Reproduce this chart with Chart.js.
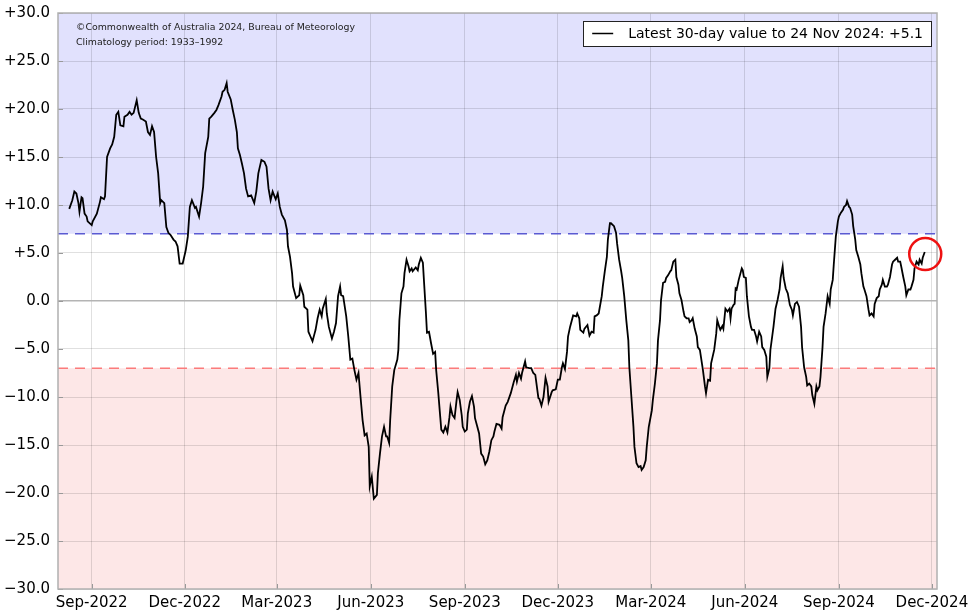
<!DOCTYPE html>
<html>
<head>
<meta charset="utf-8">
<script src="https://cdn.jsdelivr.net/npm/chart.js@4.4.1/dist/chart.umd.min.js"></script>
<style>
  html, body { margin: 0; padding: 0; background: #fff; }
  #wrap { width: 973px; height: 614px; }
</style>
</head>
<body>
<div id="wrap"><canvas id="soiChart"></canvas></div>
<script>
// day 0 of the offsets below
const startDate = '2022-09-01';
const axisStart = '2022-07-30';
const axisEnd = '2024-12-06';

// days after startDate
const dayOffsets = [
  -22,-19,-17,-15,-13,-12,-10,-9,-7,-5,
  -4,0,1,5,8,9,12,13,15,18,
  20,22,24,26,28,31,32,35,37,39,
  41,44,46,48,50,53,55,57,59,61,
  63,65,67,68,71,73,75,77,80,82,
  84,86,89,92,94,96,98,101,102,105,
  107,109,111,114,115,117,120,122,124,127,
  128,130,132,133,136,138,140,142,143,145,
  147,149,151,153,156,159,161,163,166,169,
  171,173,175,177,180,182,184,186,189,191,
  192,194,196,197,200,203,204,207,208,211,
  212,214,216,218,219,221,223,225,226,229,
  230,232,235,237,239,241,243,244,246,249,
  251,253,255,257,259,261,263,265,267,269,
  271,272,274,276,279,280,282,284,286,288,
  289,291,292,294,296,299,300,301,303,305,
  306,308,310,311,313,314,317,319,320,322,
  324,325,327,328,330,332,334,336,337,339,
  341,342,344,346,348,350,351,353,355,357,
  358,360,362,363,365,367,368,370,372,374,
  375,377,379,381,383,385,387,389,391,393,
  394,396,399,401,402,405,407,410,412,413,
  415,416,418,420,421,424,425,428,430,432,
  434,437,438,440,442,444,446,447,450,451,
  454,456,458,460,461,463,465,466,468,471,
  474,475,477,478,481,482,485,487,489,491,
  492,494,496,499,500,502,504,505,507,508,
  511,513,514,516,518,519,521,523,525,526,
  528,530,531,533,535,537,538,540,542,543,
  545,548,549,551,553,554,556,557,559,561,
  562,564,566,567,569,571,572,574,575,577,
  579,580,582,584,585,587,588,590,592,593,
  595,598,600,601,603,605,606,609,611,612,
  614,615,617,618,620,622,624,625,626,628,
  629,630,631,633,636,637,638,640,641,643,
  645,646,648,650,651,653,655,656,658,660,
  661,663,664,667,669,671,673,674,676,677,
  679,681,683,685,686,688,690,692,694,695,
  697,699,700,702,704,705,707,709,710,712,
  713,715,716,718,720,722,723,725,726,728,
  730,731,733,735,736,738,739,741,742,744,
  745,747,748,750,752,753,755,756,758,760,
  761,763,765,766,768,770,771,773,774,776,
  778,779,781,783,784,786,788,789,791,792,
  794,796,797,799,801,802,804,805,807,809,
  810,812,813,815
];

// 30-day SOI
const soiValues = [
  9.6,10.5,11.4,11.2,10.2,9.3,10.8,10.7,9.1,8.8,
  8.3,7.9,8.3,9.1,10.3,10.8,10.6,10.9,15.0,15.9,
  16.3,17.1,19.4,19.7,18.3,18.2,19.2,19.4,19.7,19.4,
  19.6,20.9,19.6,19.0,18.9,18.7,17.6,17.3,18.2,17.6,
  15.0,13.3,10.2,10.5,10.2,7.7,7.1,6.9,6.4,6.2,
  5.7,3.9,3.9,5.3,6.7,9.8,10.5,9.7,9.8,8.8,
  10.2,11.9,15.4,17.1,19.0,19.2,19.6,19.9,20.4,21.3,
  21.8,22.0,22.7,21.8,21.0,19.9,18.9,17.6,15.9,15.2,
  14.3,13.3,11.7,10.9,11.0,10.2,11.4,13.3,14.7,14.5,
  14.0,11.7,10.5,11.4,10.6,11.2,9.8,9.0,8.4,7.4,
  5.7,4.6,2.9,1.5,0.3,0.6,1.6,0.6,-0.6,-0.9,
  -3.2,-3.7,-4.2,-3.4,-3.0,-1.8,-0.9,-1.6,-0.8,0.2,
  -1.3,-2.7,-3.9,-3.2,-2.3,0.5,1.5,0.6,0.5,-1.6,
  -3.7,-6.1,-6.0,-7.2,-8.2,-7.5,-10.0,-12.4,-14.0,-13.8,
  -15.2,-19.3,-18.3,-20.6,-20.2,-17.9,-15.9,-14.1,-13.1,-14.1,
  -14.1,-14.8,-12.4,-8.9,-7.2,-6.1,-5.1,-2.0,0.8,1.5,
  2.9,4.3,3.6,3.1,3.4,3.1,3.5,3.2,3.8,4.5,
  4.0,2.2,-1.3,-3.3,-3.2,-4.4,-5.5,-5.3,-7.2,-9.5,
  -12.1,-13.4,-13.7,-13.1,-13.7,-12.1,-11.0,-11.9,-12.2,-10.3,
  -9.5,-10.3,-11.9,-13.1,-13.6,-13.4,-11.7,-10.5,-9.9,-11.0,
  -12.2,-13.0,-13.8,-15.9,-16.2,-17.0,-16.6,-15.7,-14.5,-14.1,
  -13.6,-12.8,-12.9,-13.3,-12.1,-10.9,-10.5,-9.6,-8.8,-8.4,
  -7.7,-8.4,-7.5,-8.1,-7.5,-6.3,-6.9,-7.0,-7.0,-7.5,
  -7.7,-10.1,-10.2,-10.9,-10.0,-8.0,-8.9,-10.5,-9.5,-9.3,
  -9.2,-8.2,-8.2,-6.9,-6.5,-7.1,-5.3,-3.7,-2.7,-1.5,
  -1.6,-1.3,-1.8,-3.0,-3.3,-2.9,-2.5,-3.6,-3.2,-3.3,
  -1.6,-1.5,-1.3,0.5,1.5,3.1,4.6,6.4,8.1,8.1,
  7.8,7.1,6.0,4.3,3.1,2.4,0.5,-2.0,-4.1,-6.9,
  -10.0,-13.1,-15.2,-16.9,-17.3,-17.2,-17.6,-17.3,-16.6,-15.2,
  -13.1,-11.4,-10.3,-8.6,-6.5,-4.1,-2.0,0.1,1.9,2.0,
  2.4,2.7,3.1,3.2,4.1,4.3,2.5,1.7,0.8,0.1,
  -1.1,-1.6,-1.8,-1.8,-2.2,-2.0,-1.8,-2.9,-3.7,-4.8,
  -5.1,-7.2,-8.9,-9.6,-8.2,-8.3,-6.5,-5.1,-3.4,-2.0,
  -2.7,-3.0,-2.6,-2.9,-0.8,-1.1,-0.8,-1.8,-0.8,-0.4,
  -0.3,1.3,1.2,2.2,3.4,3.2,2.5,2.4,0.5,-1.6,
  -2.7,-3.0,-3.0,-3.7,-4.2,-3.2,-3.7,-4.8,-5.1,-5.8,
  -7.9,-7.0,-5.1,-2.7,-0.8,0.1,1.2,2.4,3.6,2.4,
  1.3,0.8,-0.4,-0.9,-1.5,-0.3,-0.1,-0.6,-2.7,-4.8,
  -6.9,-7.9,-8.8,-8.6,-8.9,-9.8,-10.7,-8.9,-9.3,-8.9,
  -7.9,-4.8,-2.7,-1.3,0.5,-0.3,1.2,2.2,3.8,6.7,
  8.3,8.8,9.2,9.5,9.8,10.0,10.4,9.8,9.7,9.0,
  7.8,6.4,5.3,4.6,3.8,2.9,1.5,1.2,0.5,-0.9,
  -1.5,-1.3,-1.6,-0.3,0.3,0.5,1.2,1.7,2.2,1.5,
  1.5,1.7,2.5,3.8,4.1,4.3,4.5,4.1,4.1,3.6,
  2.5,1.5,0.6,1.2,1.2,1.5,2.2,3.4,4.1,3.8,
  4.3,3.9,4.5,5.1
];

const tickLabels = ['Sep-2022', 'Dec-2022', 'Mar-2023', 'Jun-2023', 'Sep-2023',
                    'Dec-2023', 'Mar-2024', 'Jun-2024', 'Sep-2024', 'Dec-2024'];

const laNinaLevel = 7;
const elNinoLevel = -7;

const creditLines = ['\u00A9Commonwealth of Australia 2024, Bureau of Meteorology',
                     'Climatology period: 1933\u20131992'];

const FONT = 'DejaVu Sans';
const DAY = 86400000;
const MONTHS = ['Jan','Feb','Mar','Apr','May','Jun','Jul','Aug','Sep','Oct','Nov','Dec'];
const t0 = Date.parse(startDate + 'T00:00:00Z');

function daysFrom(dateStr){
  return Math.round((Date.parse(dateStr + 'T00:00:00Z') - t0) / DAY);
}
function labelToDay(lbl){
  const [m, y] = lbl.split('-');
  return Math.round((Date.UTC(+y, MONTHS.indexOf(m), 1) - t0) / DAY);
}
function fmtSoi(v){
  if (v > 0) return '+' + v.toFixed(1);
  if (v < 0) return '\u2212' + (-v).toFixed(1);
  return '0.0';
}

const lastIdx = soiValues.length - 1;
const lastDate = new Date(t0 + dayOffsets[lastIdx] * DAY);
const legendText = 'Latest 30-day value to ' + lastDate.getUTCDate() + ' ' +
  MONTHS[lastDate.getUTCMonth()] + ' ' + lastDate.getUTCFullYear() + ': ' + fmtSoi(soiValues[lastIdx]);

const gridColor = 'rgba(0,0,0,0.12)';

const extrasPlugin = {
  id: 'soiExtras',
  beforeDraw(chart){
    const {ctx, chartArea: a, scales: {y}} = chart;
    const yUp = y.getPixelForValue(laNinaLevel);
    const yLo = y.getPixelForValue(elNinoLevel);
    ctx.save();
    ctx.fillStyle = '#fff';
    ctx.fillRect(0, 0, chart.width, chart.height);
    ctx.fillStyle = '#e1e1fd';
    ctx.fillRect(a.left, a.top, a.width, yUp - a.top);
    ctx.fillStyle = '#fde7e7';
    ctx.fillRect(a.left, yLo, a.width, a.bottom - yLo);
    ctx.restore();
  },
  beforeDatasetsDraw(chart){
    const {ctx, chartArea: a, scales: {y}} = chart;
    ctx.save();
    ctx.lineWidth = 1.5;
    ctx.setLineDash([10, 7]);
    ctx.strokeStyle = '#5a5ad2';
    let py = y.getPixelForValue(laNinaLevel);
    ctx.beginPath(); ctx.moveTo(a.left, py); ctx.lineTo(a.right, py); ctx.stroke();
    ctx.strokeStyle = '#fb7b7b';
    py = y.getPixelForValue(elNinoLevel);
    ctx.beginPath(); ctx.moveTo(a.left, py); ctx.lineTo(a.right, py); ctx.stroke();
    ctx.restore();
  },
  afterDraw(chart){
    const {ctx, chartArea: a, scales: {x, y}} = chart;
    ctx.save();

    // inward tick marks
    ctx.strokeStyle = '#999';
    ctx.lineWidth = 1;
    x.ticks.forEach(t => {
      const px = Math.round(x.getPixelForValue(t.value)) + 0.5;
      ctx.beginPath(); ctx.moveTo(px, a.bottom); ctx.lineTo(px, a.bottom - 5); ctx.stroke();
    });
    y.ticks.forEach(t => {
      const py = Math.round(y.getPixelForValue(t.value)) + 0.5;
      ctx.beginPath(); ctx.moveTo(a.left, py); ctx.lineTo(a.left + 5, py); ctx.stroke();
    });

    // frame
    ctx.strokeStyle = '#b0b0b0';
    ctx.lineWidth = 1.5;
    ctx.strokeRect(a.left, a.top, a.width, a.height);

    // credit
    ctx.fillStyle = '#222';
    ctx.font = '9.4px "' + FONT + '"';
    ctx.textBaseline = 'middle';
    ctx.textAlign = 'left';
    ctx.fillText(creditLines[0], a.left + 18, a.top + 15);
    ctx.fillText(creditLines[1], a.left + 18, a.top + 29.5);

    // legend
    ctx.font = '14px "' + FONT + '"';
    const tw = ctx.measureText(legendText).width;
    const bw = 45 + tw + 8, bh = 25;
    const bx = a.right - 6 - bw, by = a.top + 8;
    ctx.fillStyle = '#fff';
    ctx.fillRect(bx, by, bw, bh);
    ctx.strokeStyle = '#222';
    ctx.lineWidth = 1;
    ctx.strokeRect(Math.round(bx) + 0.5, by + 0.5, Math.round(bw), bh);
    ctx.strokeStyle = '#000';
    ctx.lineWidth = 1.5;
    ctx.beginPath(); ctx.moveTo(bx + 9, by + 12.5); ctx.lineTo(bx + 30, by + 12.5); ctx.stroke();
    ctx.fillStyle = '#000';
    ctx.fillText(legendText, bx + 45, by + 13);

    // highlight on latest value
    const cx = x.getPixelForValue(dayOffsets[lastIdx]);
    const cy = y.getPixelForValue(soiValues[lastIdx]);
    ctx.strokeStyle = '#ee1111';
    ctx.lineWidth = 2.5;
    ctx.beginPath(); ctx.arc(cx + 0.5, cy + 2, 16, 0, Math.PI * 2); ctx.stroke();

    ctx.restore();
  }
};

const ctx = document.getElementById('soiChart').getContext('2d');
new Chart(ctx, {
  type: 'line',
  data: {
    datasets: [{
      label: legendText,
      data: dayOffsets.map((d, i) => ({x: d, y: soiValues[i]})),
      borderColor: '#000',
      borderWidth: 1.8,
      pointRadius: 0,
      tension: 0,
      fill: false
    }]
  },
  options: {
    responsive: true,
    maintainAspectRatio: false,
    animation: false,
    layout: { padding: { top: 13, right: 36, left: 0, bottom: 0 } },
    plugins: {
      legend: { display: false },
      tooltip: { enabled: false }
    },
    scales: {
      x: {
        type: 'linear',
        min: daysFrom(axisStart),
        max: daysFrom(axisEnd),
        afterBuildTicks: s => { s.ticks = tickLabels.map(l => ({value: labelToDay(l)})); },
        afterFit: s => { s.height = 25; s.paddingLeft = 0; s.paddingRight = 0; },
        ticks: {
          autoSkip: false,
          maxRotation: 0,
          padding: 5,
          color: '#000',
          font: { family: FONT, size: 15 },
          callback: (v, i) => tickLabels[i]
        },
        grid: { color: gridColor, lineWidth: 1, drawTicks: false },
        border: { display: false }
      },
      y: {
        min: -30,
        max: 30,
        afterFit: s => { s.width = 58; s.paddingTop = 0; s.paddingBottom = 0; },
        ticks: {
          stepSize: 5,
          padding: 8,
          color: '#000',
          font: { family: FONT, size: 15 },
          callback: v => fmtSoi(v)
        },
        grid: {
          color: c => c.tick.value === 0 ? '#b4b4b4' : gridColor,
          lineWidth: c => c.tick.value === 0 ? 1.5 : 1,
          drawTicks: false
        },
        border: { display: false }
      }
    }
  },
  plugins: [extrasPlugin]
});
</script>
</body>
</html>
